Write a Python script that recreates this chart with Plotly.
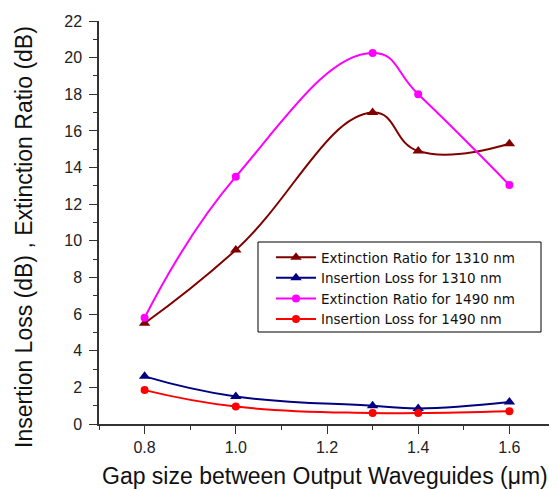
import plotly.graph_objects as go

gap = [0.8, 1.0, 1.3, 1.4, 1.6]
er_1310 = [5.5, 9.5, 17.0, 14.9, 15.3]
il_1310 = [2.6, 1.5, 1.0, 0.85, 1.2]
er_1490 = [5.8, 13.5, 20.25, 18.0, 13.05]
il_1490 = [1.85, 0.95, 0.6, 0.6, 0.7]

names = ["Extinction Ratio for 1310 nm", "Insertion Loss for 1310 nm",
         "Extinction Ratio for 1490 nm", "Insertion Loss for 1490 nm"]
series = [er_1310, il_1310, er_1490, il_1490]
colors = ["#800000", "#000080", "#FF00FF", "#FF0000"]
symbols = ["triangle-up", "triangle-up", "circle", "circle"]
msizes = [10, 10, 8, 8]

fig = go.Figure()
for n, s, c, sym, ms in zip(names, series, colors, symbols, msizes):
    fig.add_trace(go.Scatter(
        x=gap, y=s, name=n, mode="lines+markers",
        line=dict(color=c, width=2, shape="spline", smoothing=1.3),
        marker=dict(symbol=sym, size=ms, color=c),
    ))

# page body has an 8px margin: plot area in page px is x 99..555, y 21..424
PW, PH = 456, 403
sans = "Liberation Sans, Arial, sans-serif"
axis_font = dict(family=sans, size=16, color="#222")

def px(xp):
    return (xp - 99) / PW

def py(yp):
    return (424 - yp) / PH

fig.update_layout(
    width=549, height=482,
    margin=dict(l=91, r=2, t=13, b=66),
    paper_bgcolor="white", plot_bgcolor="white",
    showlegend=True,
    legend=dict(x=px(271), y=py(242), xanchor="left", yanchor="top",
                borderwidth=0, bgcolor="rgba(0,0,0,0)",
                font=dict(family="DejaVu Sans, sans-serif", size=13.5, color="#111"),
                itemwidth=40, tracegroupgap=0),
    shapes=[dict(type="rect", xref="paper", yref="paper",
                 x0=px(258), x1=px(541), y0=py(332), y1=py(242),
                 line=dict(color="black", width=1), fillcolor="white", layer="above")],
    xaxis=dict(range=[0.7, 1.7], tick0=0.8, dtick=0.2, tickformat=".1f", automargin=False,
               showgrid=False, zeroline=False, showline=True, linecolor="#333", linewidth=1.5,
               ticks="outside", ticklen=8, tickcolor="#333", tickwidth=1.2,
               minor=dict(ticks="outside", ticklen=4, dtick=0.1, tick0=0.7, tickcolor="#333", showgrid=False),
               tickfont=axis_font),
    yaxis=dict(range=[0, 22], tick0=0, dtick=2, automargin=False,
               showgrid=False, zeroline=False, showline=True, linecolor="#333", linewidth=1.5,
               ticks="outside", ticklen=8, tickcolor="#333", tickwidth=1.2,
               minor=dict(ticks="outside", ticklen=4, dtick=1, tick0=0, tickcolor="#333", showgrid=False),
               tickfont=axis_font, ticklabelstandoff=4),
    annotations=[
        dict(text="Gap size between Output Waveguides (μm)", xref="paper", yref="paper",
             x=px(325), y=py(476), xanchor="center", yanchor="middle",
             showarrow=False, font=dict(family=sans, size=23, color="#111")),
        dict(text="Insertion Loss (dB) , Extinction Ratio (dB)", xref="paper", yref="paper",
             x=px(24), y=py(237), xanchor="center", yanchor="middle",
             textangle=-90, showarrow=False, font=dict(family=sans, size=23, color="#111")),
    ],
)

fig.write_html("out.html")
